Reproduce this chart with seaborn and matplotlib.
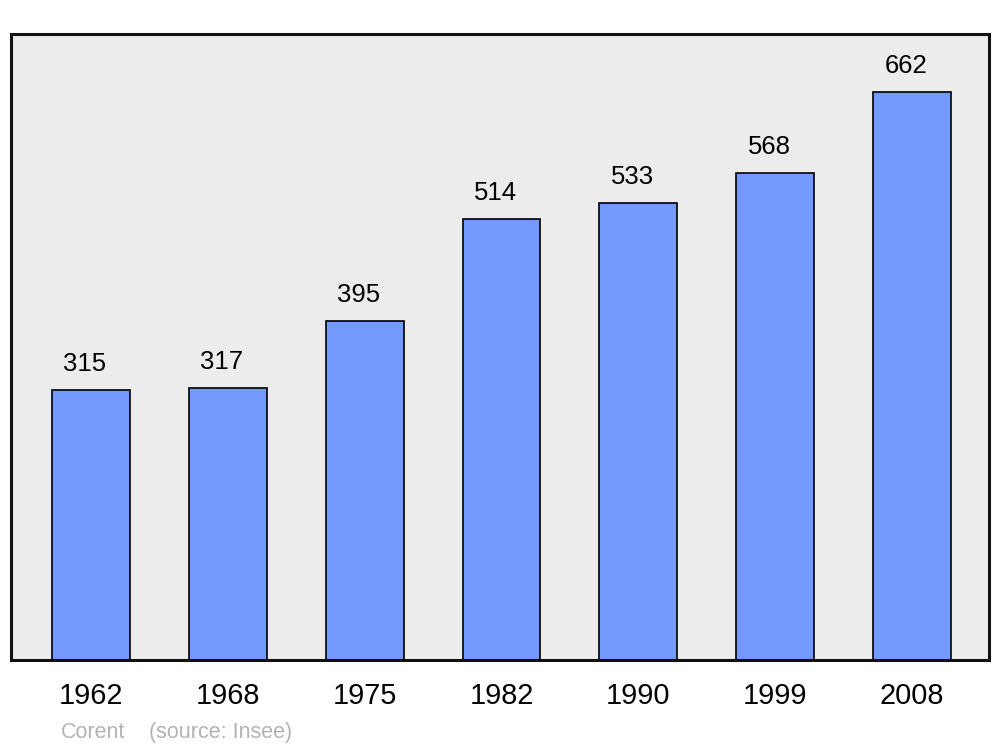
import matplotlib
matplotlib.use("Agg")
import matplotlib.pyplot as plt
import seaborn as sns
import pandas as pd

years = ["1962", "1968", "1975", "1982", "1990", "1999", "2008"]
population = [315, 317, 395, 514, 533, 568, 662]
source_left = "Corent"
source_right = "(source: Insee)"

sns.set_theme(style="white")
plt.rcParams['font.family'] = ['Liberation Sans', 'DejaVu Sans']

df = pd.DataFrame({"year": years, "pop": population})

fig = plt.figure(figsize=(10, 7.47), dpi=100)
ax = fig.add_axes([0.011, 0.1165, 0.978, 0.838])
ax.set_facecolor("#ececec")

sns.barplot(data=df, x="year", y="pop", ax=ax, color="#7499ff", saturation=1,
            width=0.57, edgecolor="black", linewidth=1.2)

for i, v in enumerate(population):
    ax.text(i - 0.045, v + 22, str(v), ha="center", va="baseline", fontsize=18.5, color="black")

ax.set_xlim(-0.585, 6.563)
ax.set_ylim(0, 730)
ax.set_yticks([])
ax.set_xlabel("")
ax.set_ylabel("")
ax.tick_params(axis="x", length=0, labelsize=20.8, pad=16, colors="black")
for s in ax.spines.values():
    s.set_linewidth(2.2)
    s.set_color("#111111")

fig.text(0.061, 0.0125, source_left, fontsize=15.5, color="#b3b3b3", ha="left", va="baseline")
fig.text(0.149, 0.0125, source_right, fontsize=15.5, color="#b3b3b3", ha="left", va="baseline")

fig.savefig("out.png", dpi=100, facecolor="white")
